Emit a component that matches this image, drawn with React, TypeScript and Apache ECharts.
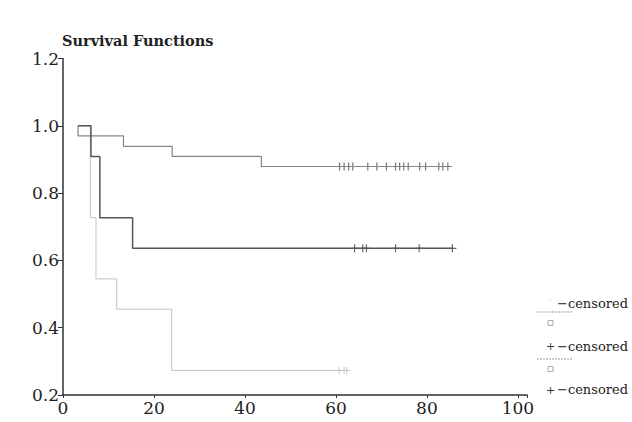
import React, { useEffect, useRef } from "react";
import * as echarts from "echarts";

// Kaplan-Meier step data
const startTime = 3.3;
const topTimes = [3.3, 13.3, 24.0, 43.6];
const topSurv = [0.970, 0.939, 0.909, 0.879];
const topCensored = [60.8, 61.8, 62.8, 63.7, 67.0, 69.0, 71.1, 73.1, 74.0, 74.9, 75.9, 78.4, 79.7, 82.6, 83.5, 84.6];
const midTimes = [6.15, 8.1, 15.3];
const midSurv = [0.909, 0.727, 0.636];
const midCensored = [64.1, 65.9, 66.7, 73.1, 78.3, 85.6];
const lowTimes = [6.0, 7.25, 11.8, 23.9];
const lowSurv = [0.727, 0.545, 0.455, 0.273];
const lowCensored = [60.7, 61.8, 62.4];

const xTicks = [0, 20, 40, 60, 80, 100];
const yTicks = [0.2, 0.4, 0.6, 0.8, 1.0, 1.2];
const titleText = "Survival Functions";
const legendLabels = ["\u2212censored", "\u2212censored", "\u2212censored"];

const FONT = "DejaVu Serif";
const PLUS = "path://M3.4,0h1.2v3.4h3.4v1.2h-3.4v3.4h-1.2v-3.4h-3.4v-1.2h3.4z";

function kmData(times: number[], surv: number[], end: number) {
  const pts: number[][] = [[startTime, 1]];
  times.forEach((t, i) => pts.push([t, surv[i]]));
  pts.push([end, surv[surv.length - 1]]);
  return pts;
}
function censorData(times: number[], surv: number[]) {
  const s = surv[surv.length - 1];
  return times.map((t) => [t, s]);
}

export default function App() {
  const ref = useRef<HTMLDivElement>(null);
  useEffect(() => {
    if (!ref.current) return;
    const chart = echarts.init(ref.current, null, { renderer: "svg" });
    const lx = 537;
    chart.setOption({
      animation: false,
      backgroundColor: "#ffffff",
      title: {
        text: titleText,
        left: 57,
        top: 28,
        textStyle: { fontFamily: FONT, fontSize: 14.5, fontWeight: "bold", color: "#222" },
      },
      grid: { left: 63, right: 105, top: 58.5, bottom: 27 },
      xAxis: {
        type: "value",
        min: 0,
        max: 102,
        interval: 20,
        axisLine: { lineStyle: { color: "#333", width: 1.5 } },
        axisTick: { length: 3, lineStyle: { color: "#333" } },
        splitLine: { show: false },
        axisLabel: {
          margin: 4,
          fontFamily: FONT,
          fontSize: 17,
          color: "#222",
          formatter: (v: number) => (xTicks.indexOf(v) >= 0 ? String(v) : ""),
        },
      },
      yAxis: {
        type: "value",
        min: 0.2,
        max: 1.2,
        interval: 0.2,
        axisLine: { show: true, lineStyle: { color: "#333", width: 1.5 } },
        axisTick: { show: true, length: 5, lineStyle: { color: "#333" } },
        splitLine: { show: false },
        axisLabel: {
          margin: 4,
          fontFamily: FONT,
          fontSize: 17,
          color: "#222",
          formatter: (v: number) => {
            const m = yTicks.find((t) => Math.abs(t - v) < 1e-6);
            return m !== undefined ? m.toFixed(1) : "";
          },
        },
      },
      series: [
        {
          type: "line",
          step: "end",
          data: kmData(lowTimes, lowSurv, lowCensored[lowCensored.length - 1]),
          symbol: "none",
          lineStyle: { color: "#c4c4c4", width: 1 },
        },
        {
          type: "line",
          step: "end",
          data: kmData(topTimes, topSurv, topCensored[topCensored.length - 1]),
          symbol: "none",
          lineStyle: { color: "#858585", width: 1.2 },
        },
        {
          type: "line",
          step: "end",
          data: kmData(midTimes, midSurv, midCensored[midCensored.length - 1]),
          symbol: "none",
          lineStyle: { color: "#555", width: 1.5 },
        },
        {
          type: "scatter",
          data: censorData(topCensored, topSurv),
          symbol: PLUS,
          symbolSize: 8,
          itemStyle: { color: "#555" },
        },
        {
          type: "scatter",
          data: censorData(midCensored, midSurv),
          symbol: PLUS,
          symbolSize: 8,
          itemStyle: { color: "#444" },
        },
        {
          type: "scatter",
          data: censorData(lowCensored, lowSurv),
          symbol: PLUS,
          symbolSize: 7,
          itemStyle: { color: "#bbb" },
        },
      ],
      graphic: [
        { type: "text", left: 549, top: 298, style: { text: "'", fontFamily: FONT, fontSize: 9, fill: "#ccc" } },
        { type: "text", left: 557, top: 297, style: { text: legendLabels[0], fontFamily: FONT, fontSize: 13, fill: "#222" } },
        { type: "line", shape: { x1: lx, y1: 312, x2: lx + 35, y2: 312 }, style: { stroke: "#999", lineWidth: 1, lineDash: [2, 1] } },
        { type: "rect", shape: { x: 548, y: 320.5, width: 5, height: 5 }, style: { fill: "none", stroke: "#aaa", lineWidth: 1 } },
        { type: "text", left: 546, top: 341, style: { text: "+", fontFamily: FONT, fontSize: 11, fill: "#333" } },
        { type: "text", left: 557, top: 340, style: { text: legendLabels[1], fontFamily: FONT, fontSize: 13, fill: "#222" } },
        { type: "line", shape: { x1: lx, y1: 359, x2: lx + 35, y2: 359 }, style: { stroke: "#999", lineWidth: 1, lineDash: [2, 1] } },
        { type: "rect", shape: { x: 548, y: 366.5, width: 5, height: 5 }, style: { fill: "none", stroke: "#aaa", lineWidth: 1 } },
        { type: "text", left: 546, top: 385, style: { text: "+", fontFamily: FONT, fontSize: 11, fill: "#333" } },
        { type: "text", left: 557, top: 383, style: { text: legendLabels[2], fontFamily: FONT, fontSize: 13, fill: "#222" } },
      ],
    });
    return () => chart.dispose();
  }, []);
  return (
    <div
      ref={ref}
      style={{ position: "fixed", left: 0, top: 0, width: 632, height: 422, background: "#fff" }}
    />
  );
}
